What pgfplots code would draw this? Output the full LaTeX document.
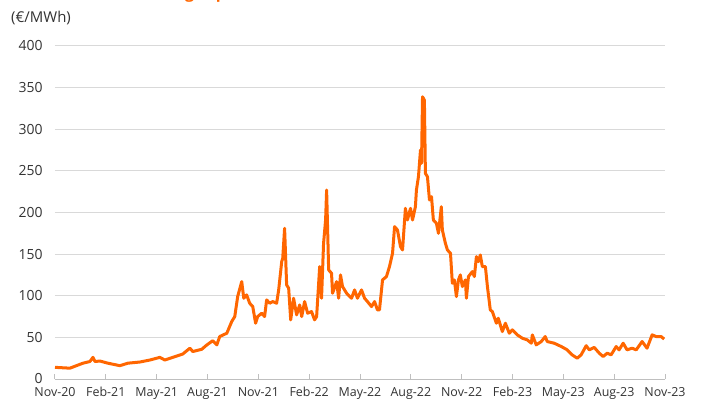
\documentclass[border=0pt]{standalone}
\usepackage{fontspec}
\setmainfont{Open Sans}
\usepackage{pgfplots}
\pgfplotsset{compat=1.18}
\definecolor{ttf}{RGB}{255,102,0}
\definecolor{gridc}{RGB}{217,217,217}
\definecolor{axc}{RGB}{191,191,191}
\definecolor{txt}{RGB}{51,51,51}
\begin{document}
\begin{tikzpicture}
\useasboundingbox (-55bp,-26bp) rectangle (646bp,379bp);
\begin{axis}[
  at={(0bp,0bp)}, anchor=south west,
  width=610bp, height=333bp, scale only axis,
  xmin=0, xmax=36, ymin=0, ymax=400,
  xtick={0,3,...,36},
  xticklabels={Nov-20,Feb-21,May-21,Aug-21,Nov-21,Feb-22,May-22,Aug-22,Nov-22,Feb-23,May-23,Aug-23,Nov-23},
  ytick={0,50,...,400},
  ymajorgrids, grid style={gridc, line width=1bp},
  axis x line*=bottom, axis y line*=left,
  x axis line style={-, draw=axc, line width=1bp},
  y axis line style={draw=none},
  ytick style={draw=none},
  xtick style={draw=axc, line width=1bp},
  tick align=inside, major tick length=5bp,
  xticklabel style={font=\fontsize{12.5}{14}\selectfont, text=txt, yshift=-5bp},
  yticklabel style={font=\fontsize{14}{16}\selectfont, text=txt, xshift=-9bp},
  /pgf/number format/assume math mode=true,
  clip=false,
]
\addplot[ttf, line width=3bp, line join=round, no marks] coordinates {
(0,14)(0.88,13)(1.65,19)(2.06,21)(2.24,26)(2.36,21)(2.65,21.6)(3.12,19)(3.83,16)(4.30,19)(5.01,20.4)(5.60,22.8)(6.19,26)(6.48,22.8)(6.95,26)(7.54,30)(7.96,37)(8.13,33)(8.66,35.7)(8.96,40.9)(9.31,46)(9.55,41)
(9.72,51)(10.14,55)(10.43,69)(10.61,75)(10.78,99)(11.02,117)(11.14,97)(11.31,101)(11.49,91)(11.67,87)(11.84,67)(11.96,75)(12.20,79)(12.37,75)(12.49,95)(12.67,91)(12.85,93)(13.08,91)(13.20,107)(13.38,141)(13.44,145)(13.55,181)(13.67,113)(13.79,109)(13.91,71)(14.08,97)(14.26,77)(14.44,89)(14.56,75)(14.73,93)(14.91,79)(15.14,81)(15.32,71)(15.44,75)(15.62,135)(15.73,97)(15.85,163)(15.97,191)(16.03,227)(16.15,131)(16.32,127)(16.38,103)(16.62,117)(16.74,97)(16.85,125)(16.97,111)(17.21,103)(17.50,97)(17.68,107)(17.85,97)(18.09,107)(18.27,97)(18.44,93)(18.68,87)(18.86,93)(19.03,83)(19.15,83)
(19.33,119)(19.56,123)(19.74,135)(19.92,151)(20.04,183)(20.21,179)(20.39,159)(20.51,155)(20.68,205)(20.80,191)(20.98,205)(21.10,191)(21.27,207)(21.33,227)(21.45,243)(21.57,275)(21.63,259)(21.69,339)(21.80,335)(21.86,247)(21.98,243)(22.10,215)(22.22,219)(22.33,191)(22.51,187)(22.63,175)(22.80,207)(22.86,179)(23.04,163)(23.16,155)(23.34,151)(23.45,115)(23.57,119)(23.69,99)(23.81,119)(23.92,125)(24.04,111)(24.22,119)(24.28,97)(24.40,123)(24.63,129)(24.75,123)(24.87,147)(24.99,141)(25.10,149)(25.22,135)(25.40,135)(25.52,111)(25.69,83)(25.81,81)
(26.05,67)(26.16,73)(26.40,57)(26.58,67)(26.81,55)(26.99,59)(27.28,53)(27.58,49)(27.87,47)(28.11,43)(28.17,53)(28.40,41)(28.70,45)(28.93,51)(29.05,45)(29.46,43)(29.88,39)(30.23,35)(30.52,29)(30.82,25)(31.05,29)(31.35,40)(31.53,35)(31.82,38)(32.12,31)(32.35,27)(32.59,31)(32.82,29)(33.12,39)(33.29,35)(33.53,43)(33.76,35)(34.06,37)(34.30,35)(34.65,45)(34.94,37)(35.24,53)(35.48,51)(35.77,51)(35.95,48)
};
\end{axis}
\node[anchor=west, font=\fontsize{15}{17}\selectfont, text=txt, inner sep=0pt] at (-44bp,361bp) {(€/MWh)};
\node[anchor=base west, font=\bfseries\fontsize{16}{18}\selectfont, text=ttf, inner sep=0pt] at (130bp,380.5bp) {gas price};
\end{tikzpicture}
\end{document}
